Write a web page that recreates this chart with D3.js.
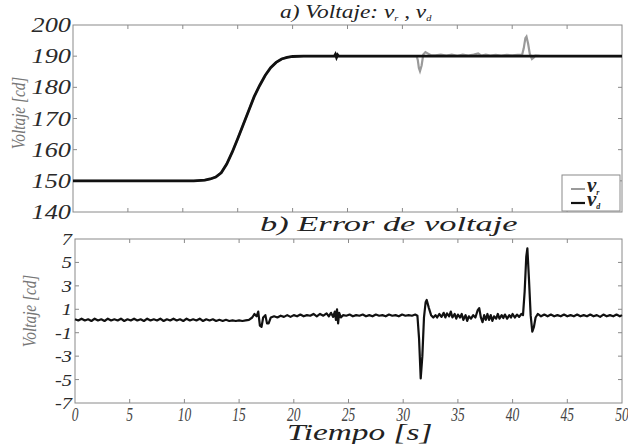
<!DOCTYPE html>
<html>
<head>
<meta charset="utf-8">
<script src="https://cdn.jsdelivr.net/npm/d3@7"></script>
<style>
body { margin:0; background:#fff; }
</style>
</head>
<body>
<div id="chart"></div>
<script>
//Two stacked panels: a) voltage reference/measured, b) voltage error

//time ticks shared by both panels
var timeTicks = [0,5,10,15,20,25,30,35,40,45,50];
var voltTicks = [140,150,160,170,180,190,200];
var errTicks = [-7,-5,-3,-1,1,3,5,7];

//v_d : desired voltage (black), [t, value]
var vdPoints = [[0,150],[11,150],[12,150.2],[12.5,150.6],[13,151.2],[13.5,152.6],[14,155.4],[14.5,159.2],[15,163.5],
	[15.5,168],[16,172.5],[16.5,177],[17,180.6],[17.5,183.8],[18,186.3],[18.5,188],[19,189.1],[19.5,189.6],
	[20,189.9],[21,190],[23.8,190],[23.9,190.6],[24,189.6],[24.1,190.4],[24.2,190],[50,190]];

//v_r : measured voltage (gray)
var vrPoints = [[0,150],[11,150],[12,150.2],[12.5,150.6],[13,151.2],[13.5,152.6],[14,155.4],[14.5,159.2],[15,163.5],
	[15.5,168],[16,172.5],[16.5,177],[17,180.6],[17.5,183.8],[18,186.3],[18.5,188],[19,189.1],[19.5,189.6],
	[20,189.9],[21,190],[31.3,190],[31.4,188.8],[31.5,186.2],[31.6,185.2],[31.75,187],[31.9,190.5],[32.1,191.3],
	[32.3,190.9],[32.6,190.3],[33,190.3],[33.5,190.5],[34,190.2],[34.5,190.5],[35,190.1],[35.5,190.5],[36,190.2],
	[36.5,190.5],[36.9,190.9],[37.2,190.2],[37.6,190.5],[38,190.2],[38.5,190.4],[39,190.2],[39.5,190.4],[40,190.3],
	[40.5,190.4],[40.9,190.4],[41.05,192.5],[41.2,195.8],[41.3,196.3],[41.45,194],[41.6,190.8],[41.8,189.1],
	[41.95,189.5],[42.1,190.2],[42.5,190.1],[50,190]];

//voltage error
var errPoints = [[0,0.15],[0.3,0.05],[0.6,0.2],[0.9,0.05],[1.2,0.15],[1.5,0],[1.8,0.2],[2.1,0.05],[2.4,0.15],[2.7,0],
	[3,0.2],[3.3,0.05],[3.6,0.15],[3.9,0.05],[4.2,0.2],[4.5,0],[4.8,0.15],[5.1,0.05],[5.4,0.2],[5.7,0.05],
	[6,0.15],[6.3,0],[6.6,0.2],[6.9,0.05],[7.2,0.15],[7.5,0.05],[7.8,0.2],[8.1,0],[8.4,0.15],[8.7,0.05],
	[9,0.2],[9.3,0.05],[9.6,0.15],[9.9,0],[10.2,0.2],[10.5,0.05],[10.8,0.15],[11.1,0.05],[11.4,0.2],[11.7,0],
	[12,0.15],[12.3,0.05],[12.6,0.15],[12.9,0],[13.2,0.1],[13.5,0],[13.8,0.1],[14.1,0],[14.4,0.05],[14.7,0],
	[15,0.05],[15.3,0],[15.6,0.05],[15.9,0.1],[16.2,0.3],[16.4,0.6],[16.6,0.4],[16.75,0.8],[16.9,-0.4],[17.05,-0.5],
	[17.2,0.3],[17.4,0.5],[17.55,-0.2],[17.7,-0.2],[17.9,0.3],[18.2,0.4],[18.5,0.3],[18.8,0.45],[19.1,0.35],[19.4,0.5],
	[19.7,0.35],[20,0.5],[20.3,0.4],[20.6,0.55],[20.9,0.4],[21.2,0.5],[21.5,0.45],[21.8,0.6],[22.1,0.4],[22.4,0.6],
	[22.7,0.45],[23,0.65],[23.2,0.4],[23.4,0.7],[23.6,0.35],[23.75,0.8],[23.85,0.1],[23.95,1],[24.05,-0.2],[24.15,0.7],
	[24.3,0.3],[24.5,0.5],[24.8,0.45],[25.1,0.55],[25.4,0.4],[25.7,0.5],[26,0.45],[26.3,0.55],[26.6,0.4],[26.9,0.5],
	[27.2,0.4],[27.5,0.55],[27.8,0.45],[28.1,0.5],[28.4,0.4],[28.7,0.55],[29,0.45],[29.3,0.5],[29.6,0.4],[29.9,0.55],
	[30.2,0.45],[30.5,0.5],[30.8,0.45],[31.1,0.55],[31.3,0.45],[31.45,-1.5],[31.6,-4.9],[31.75,-3],[31.9,0.3],[32.05,1.6],
	[32.15,1.8],[32.35,1.1],[32.55,0.5],[32.75,0.3],[32.95,0.5],[33.1,0.3],[33.3,0.6],[33.5,0.35],[33.7,0.7],[33.85,0.3],
	[34,0.65],[34.2,0.4],[34.35,0.8],[34.5,0.3],[34.7,0.6],[34.85,0.2],[35,0.55],[35.2,0.3],[35.35,0.6],[35.5,0.1],
	[35.7,0.5],[35.85,0],[36,0.4],[36.2,0.2],[36.4,0.5],[36.6,0.3],[36.8,0.9],[36.95,1.1],[37.1,0.3],[37.25,-0.1],
	[37.4,0.5],[37.55,0.1],[37.7,0.6],[37.85,0.1],[38,0.5],[38.15,0],[38.3,0.4],[38.5,0.2],[38.65,0.6],[38.8,0.2],
	[39,0.5],[39.15,0.25],[39.3,0.55],[39.5,0.2],[39.7,0.5],[39.85,0.3],[40,0.6],[40.2,0.3],[40.4,0.55],[40.6,0.35],
	[40.8,0.6],[40.95,0.5],[41.1,2.5],[41.25,5.5],[41.35,6.2],[41.5,3.5],[41.65,0.5],[41.8,-0.9],[41.95,-0.5],[42.1,0.3],
	[42.3,0.6],[42.6,0.4],[42.9,0.55],[43.2,0.4],[43.5,0.55],[43.8,0.4],[44.1,0.5],[44.4,0.4],[44.7,0.55],[45,0.4],
	[45.3,0.5],[45.6,0.4],[45.9,0.55],[46.2,0.4],[46.5,0.5],[46.8,0.4],[47.1,0.55],[47.4,0.4],[47.7,0.5],[48,0.35],
	[48.3,0.55],[48.6,0.4],[48.9,0.5],[49.2,0.4],[49.5,0.55],[49.8,0.4],[50,0.5]];

var frameColor = "#8a8a8a";
var serif = "Liberation Serif";

var svg = d3.select("#chart")
	.append("svg")
	.attr("width", 628)
	.attr("height", 444);

//every text is italic serif
function addText(parent) {
	return parent.append("text")
		.attr("font-family", serif)
		.attr("font-style", "italic");
}

//panel geometry
var topBox = {x0:73, x1:622, y0:25, y1:212};
var botBox = {x0:75, x1:622, y0:239, y1:403};

var xTop = d3.scaleLinear().domain([0,50]).range([topBox.x0, topBox.x1]);
var yTop = d3.scaleLinear().domain([140,200]).range([topBox.y1, topBox.y0]);
var xBot = d3.scaleLinear().domain([0,50]).range([botBox.x0, botBox.x1]);
var yBot = d3.scaleLinear().domain([-7,7]).range([botBox.y1, botBox.y0]);

//draws the frame and inward ticks on all four sides
function drawFrame(box, xs, ys, xt, yt) {
	var g = svg.append("g");
	g.append("rect")
		.attr("x", box.x0).attr("y", box.y0)
		.attr("width", box.x1-box.x0).attr("height", box.y1-box.y0)
		.attr("fill", "none").attr("stroke", frameColor).attr("stroke-width", 1);
	var tl = 4;
	xt.slice(1, -1).forEach(function(t) {
		g.append("line").attr("x1", xs(t)).attr("x2", xs(t)).attr("y1", box.y1).attr("y2", box.y1-tl)
			.attr("stroke", frameColor);
		g.append("line").attr("x1", xs(t)).attr("x2", xs(t)).attr("y1", box.y0).attr("y2", box.y0+tl)
			.attr("stroke", frameColor);
	});
	yt.slice(1, -1).forEach(function(t) {
		g.append("line").attr("x1", box.x0).attr("x2", box.x0+tl).attr("y1", ys(t)).attr("y2", ys(t))
			.attr("stroke", frameColor);
		g.append("line").attr("x1", box.x1).attr("x2", box.x1-tl).attr("y1", ys(t)).attr("y2", ys(t))
			.attr("stroke", frameColor);
	});
}

drawFrame(topBox, xTop, yTop, timeTicks, voltTicks);
drawFrame(botBox, xBot, yBot, timeTicks, errTicks);

//y tick labels, stretched horizontally like the original figure
var gTop = svg.append("g");
voltTicks.forEach(function(d) {
	addText(gTop)
		.attr("transform", "translate(" + (topBox.x0-2) + "," + (yTop(d)+7) + ") scale(1.25,1)")
		.attr("text-anchor", "end")
		.attr("font-size", 21)
		.attr("fill", "#2a2a2a")
		.text(d);
});

var gBot = svg.append("g");
errTicks.forEach(function(d) {
	addText(gBot)
		.attr("transform", "translate(" + (botBox.x0-3) + "," + (yBot(d)+6) + ") scale(1.2,1)")
		.attr("text-anchor", "end")
		.attr("font-size", 17)
		.attr("fill", "#2a2a2a")
		.text(d < 0 ? "-" + Math.abs(d) : d);
});

//x tick labels, condensed
var gX = svg.append("g");
timeTicks.forEach(function(d) {
	addText(gX)
		.attr("transform", "translate(" + xBot(d) + "," + (botBox.y1+18) + ") scale(0.75,1)")
		.attr("text-anchor", "middle")
		.attr("font-size", 18)
		.attr("fill", "#444")
		.text(d);
});

//axis titles
addText(svg)
	.attr("transform", "translate(25,113) rotate(-90) scale(0.85,1)")
	.attr("text-anchor", "middle")
	.attr("font-size", 18)
	.attr("fill", "#777")
	.text("Voltaje [cd]");

addText(svg)
	.attr("transform", "translate(36,311) rotate(-90) scale(0.85,1)")
	.attr("text-anchor", "middle")
	.attr("font-size", 18)
	.attr("fill", "#777")
	.text("Voltaje [cd]");

addText(svg)
	.attr("transform", "translate(287,440) scale(1.45,1)")
	.attr("font-size", 23)
	.attr("fill", "#222")
	.text("Tiempo [s]");

//panel titles
var titleA = addText(svg)
	.attr("transform", "translate(280,18) scale(1.3,1)")
	.attr("font-size", 18)
	.attr("fill", "#222");
titleA.append("tspan").text("a) Voltaje: v");
titleA.append("tspan").attr("font-size", 8).attr("dy", 3).text("r");
titleA.append("tspan").attr("dy", -3).text(" , v");
titleA.append("tspan").attr("font-size", 8).attr("dy", 3).text("d");

addText(svg)
	.attr("transform", "translate(260,231) scale(1.72,1)")
	.attr("font-size", 20)
	.attr("fill", "#222")
	.text("b) Error de voltaje");

//lines
var lineTop = d3.line().x(function(d) { return xTop(d[0]); }).y(function(d) { return yTop(d[1]); });
var lineBot = d3.line().x(function(d) { return xBot(d[0]); }).y(function(d) { return yBot(d[1]); });

svg.append("path").datum(vrPoints)
	.attr("d", lineTop).attr("fill", "none")
	.attr("stroke", "#9a9a9a").attr("stroke-width", 2.2);

svg.append("path").datum(vdPoints)
	.attr("d", lineTop).attr("fill", "none")
	.attr("stroke", "#111").attr("stroke-width", 2.8);

svg.append("path").datum(errPoints)
	.attr("d", lineBot).attr("fill", "none")
	.attr("stroke", "#111").attr("stroke-width", 2.2).attr("stroke-linejoin", "round");

//legend
var leg = svg.append("g");
leg.append("rect")
	.attr("x", 562).attr("y", 175).attr("width", 58).attr("height", 36)
	.attr("fill", "#fff").attr("stroke", frameColor);
leg.append("line").attr("x1", 571).attr("x2", 585).attr("y1", 189).attr("y2", 189)
	.attr("stroke", "#9a9a9a").attr("stroke-width", 2);
leg.append("line").attr("x1", 571).attr("x2", 585).attr("y1", 203).attr("y2", 203)
	.attr("stroke", "#111").attr("stroke-width", 2.2);
var l1 = addText(leg).attr("x", 587).attr("y", 192).attr("font-size", 21).attr("font-weight", "bold").attr("fill", "#222");
l1.append("tspan").text("v");
l1.append("tspan").attr("font-size", 8).attr("dy", 3).text("r");
var l2 = addText(leg).attr("x", 587).attr("y", 206).attr("font-size", 21).attr("font-weight", "bold").attr("fill", "#222");
l2.append("tspan").text("v");
l2.append("tspan").attr("font-size", 8).attr("dy", 3).text("d");
</script>
</body>
</html>
